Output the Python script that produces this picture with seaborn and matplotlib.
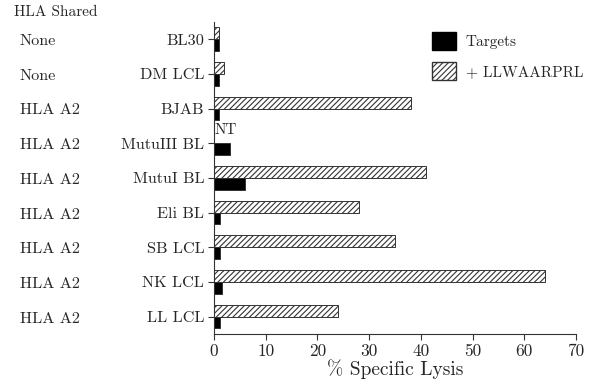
import numpy as np
import pandas as pd
import matplotlib
matplotlib.use("Agg")
import matplotlib.pyplot as plt
import matplotlib.transforms as mtransforms
from matplotlib.patches import Patch
import seaborn as sns

cells = ['BL30', 'DM LCL', 'BJAB', 'MutuIII BL', 'MutuI BL', 'Eli BL', 'SB LCL', 'NK LCL', 'LL LCL']
hla_shared = ['None', 'None', 'HLA A2', 'HLA A2', 'HLA A2', 'HLA A2', 'HLA A2', 'HLA A2', 'HLA A2']
targets = [1.0, 1.0, 1.0, 3.0, 6.0, 1.2, 1.2, 1.5, 1.2]
peptide = [1.0, 2.0, 38.0, np.nan, 41.0, 28.0, 35.0, 64.0, 24.0]
series_names = ['Targets', '+ LLWAARPRL']
x_ticks = [0, 10, 20, 30, 40, 50, 60, 70]

sns.set_theme(style="ticks")
plt.rcParams['font.family'] = ['cmr10', 'DejaVu Serif']
plt.rcParams['axes.formatter.use_mathtext'] = True
plt.rcParams['axes.unicode_minus'] = False
plt.rcParams['hatch.linewidth'] = 0.8

rows = []
for c, t, p in zip(cells, targets, peptide):
    rows.append({'cell': c, 'cond': series_names[0], 'value': t})
    if not np.isnan(p):
        rows.append({'cell': c, 'cond': series_names[1], 'value': p})
df = pd.DataFrame(rows)

fig = plt.figure(figsize=(5.92, 3.83), dpi=100)
ax = fig.add_axes([0.3615, 0.128, 0.6115, 0.815])

sns.barplot(data=df, x='value', y='cell', hue='cond', order=cells,
            hue_order=[series_names[1], series_names[0]],
            palette={series_names[0]: 'black', series_names[1]: 'white'},
            orient='h', width=0.68, dodge=True, edgecolor='#333333',
            linewidth=0.7, errorbar=None, legend=False, ax=ax)

for bar in ax.containers[0]:
    bar.set_hatch('//////')
    bar.set_edgecolor('#333333')

ax.set_xlim(0, 70)
ax.set_ylim(8.5, -0.5)
ax.set_xticks(x_ticks)
ax.set_xticklabels([str(v) for v in x_ticks], fontsize=12.5)
ax.set_yticks(range(len(cells)))
ax.set_yticklabels(cells, fontsize=11.7)
ax.set_ylabel('')
ax.set_xlabel('% Specific Lysis', fontsize=14, labelpad=0)
for s in ['top', 'right']:
    ax.spines[s].set_visible(False)
for s in ['left', 'bottom']:
    ax.spines[s].set_linewidth(0.8)
    ax.spines[s].set_color('#333333')
ax.tick_params(axis='both', length=4, width=0.8, color='#333333', pad=3)

ax.text(0.2, 2.83, 'NT', fontsize=11, ha='left', va='bottom')

trans = mtransforms.blended_transform_factory(fig.transFigure, ax.transData)
for i, h in enumerate(hla_shared):
    ax.text(20 / 592, i + 0.06, h, transform=trans, fontsize=11.7, ha='left', va='center')
fig.text(14 / 592, 1 - 12 / 383, 'HLA Shared', fontsize=11, ha='left', va='center')

handles = [Patch(facecolor='black', edgecolor='black', label=series_names[0]),
           Patch(facecolor='white', edgecolor='#333333', hatch='//////', label=series_names[1])]
fig.legend(handles=handles, loc='upper left', bbox_to_anchor=(432 / 592, 1 - 32 / 383),
           frameon=False, fontsize=11, handlelength=1.6, handleheight=1.4,
           handletextpad=0.6, labelspacing=0.8, borderaxespad=0, borderpad=0)

fig.savefig('out.png', dpi=100)
